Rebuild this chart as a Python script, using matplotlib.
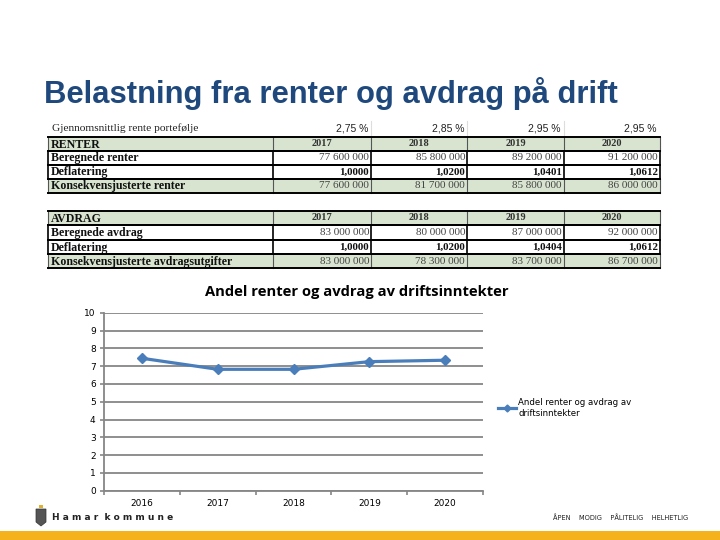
import matplotlib
matplotlib.use('Agg')
import matplotlib.pyplot as plt
from matplotlib.patches import Rectangle, Polygon
import numpy as np

# ---------------- data ----------------
years_chart = ['2016', '2017', '2018', '2019', '2020']
andel = [7.44, 6.82, 6.82, 7.25, 7.33]

table_years = ['2017', '2018', '2019', '2020']
rente_pst = ['2,75 %', '2,85 %', '2,95 %', '2,95 %']
beregnede_renter = ['77 600 000', '85 800 000', '89 200 000', '91 200 000']
deflator_renter = ['1,0000', '1,0200', '1,0401', '1,0612']
justerte_renter = ['77 600 000', '81 700 000', '85 800 000', '86 000 000']
beregnede_avdrag = ['83 000 000', '80 000 000', '87 000 000', '92 000 000']
deflator_avdrag = ['1,0000', '1,0200', '1,0404', '1,0612']
justerte_avdrag = ['83 000 000', '78 300 000', '83 700 000', '86 700 000']

W, H = 720, 540
fig = plt.figure(figsize=(7.2, 5.4), dpi=100)
fig.patch.set_facecolor('white')

# background axes in pixel coordinates for slide elements + table
bg = fig.add_axes([0, 0, 1, 1])
bg.set_xlim(0, W)
bg.set_ylim(H, 0)
bg.axis('off')

# slide title
bg.text(44, 103, 'Belastning fra renter og avdrag på drift', fontsize=22.3,
        family='Liberation Sans', weight='bold', color='#1F497D', va='baseline', ha='left')

# ---------------- table ----------------
green = '#D8E4D0'
col_edges = [48, 273, 371, 467, 564, 660]
serif = 'Liberation Serif'

# (label, values, fill, kind, row span in px)
rows = [
    ('Gjennomsnittlig rente portefølje', rente_pst, 'white', 'pct', (121, 136)),
    ('RENTER', table_years, green, 'year', (137, 151)),
    ('Beregnede renter', beregnede_renter, 'white', 'num', (151, 165)),
    ('Deflatering', deflator_renter, 'white', 'bold', (165, 179)),
    ('Konsekvensjusterte renter', justerte_renter, green, 'num', (179, 193)),
    ('AVDRAG', table_years, green, 'year', (211, 225)),
    ('Beregnede avdrag', beregnede_avdrag, 'white', 'num', (225, 240)),
    ('Deflatering', deflator_avdrag, 'white', 'bold', (240, 254)),
    ('Konsekvensjusterte avdragsutgifter', justerte_avdrag, green, 'num', (254, 268)),
]

for label, vals, fill, kind, (y0, y1) in rows:
    bg.add_patch(Rectangle((col_edges[0], y0), col_edges[-1] - col_edges[0], y1 - y0,
                           facecolor=fill, edgecolor='none', zorder=1))
    ym = (y0 + y1) / 2
    if kind == 'pct':
        bg.text(52, ym, label, fontsize=8.2, family=serif, va='center', ha='left', color='#222222')
        for i, v in enumerate(vals):
            bg.text(col_edges[i + 2] - 3, ym, v, fontsize=7.5, family='Liberation Sans',
                    va='center', ha='right', color='#222222')
        for x in col_edges[2:-1]:
            bg.plot([x, x], [y0, y1], color='#DDDDDD', lw=0.8, zorder=2)
        continue
    bg.text(51, ym + 0.5, label, fontsize=8.6, family=serif, weight='bold',
            va='center', ha='left', color='#111111')
    for i, v in enumerate(vals):
        if kind == 'year':
            bg.text((col_edges[i + 1] + col_edges[i + 2]) / 2, ym, v, fontsize=7.5,
                    family=serif, weight='bold', va='center', ha='center', color='#333333')
        elif kind == 'bold':
            bg.text(col_edges[i + 2] - 2, ym, v, fontsize=7.8, family=serif, weight='bold',
                    va='center', ha='right', color='#111111')
        else:
            bg.text(col_edges[i + 2] - 2, ym, v, fontsize=8, family=serif,
                    va='center', ha='right', color='#444444')
    # borders
    vc = '#555555' if fill == green else 'black'
    for x in col_edges:
        bg.plot([x, x], [y0, y1], color=vc, lw=1.2 if fill == 'white' else 0.8, zorder=2)
    for y in (y0, y1):
        bg.plot([col_edges[0], col_edges[-1]], [y, y], color='black', lw=1.4, zorder=3)

# ---------------- chart ----------------
ax = fig.add_axes([104 / W, 1 - 490.7 / H, 379 / W, 178 / H])
x = np.arange(len(years_chart))
ax.plot(x, andel, color='#4A7EBB', lw=2.3, marker='D', markersize=5,
        label='Andel renter og avdrag av\ndriftsinntekter', zorder=3)
ax.set_xlim(-0.5, len(years_chart) - 0.5)
ax.set_ylim(0, 10)
ax.set_yticks(range(0, 11))
ax.set_xticks(x)
ax.set_xticklabels(years_chart)
ax.set_xticks(np.arange(-0.5, len(years_chart), 1), minor=True)
ax.tick_params(axis='x', which='major', length=0, labelsize=6.5, pad=6)
ax.tick_params(axis='x', which='minor', length=3, color='#868686', width=1.2)
ax.tick_params(axis='y', length=3, color='#868686', width=1.2, labelsize=6.5, pad=3)
ax.grid(axis='y', color='#868686', lw=1.3)
ax.set_axisbelow(True)
for s in ['top', 'right']:
    ax.spines[s].set_visible(False)
for s in ['left', 'bottom']:
    ax.spines[s].set_color('#868686')
    ax.spines[s].set_linewidth(1.3)
ax.set_title('Andel renter og avdrag av driftsinntekter', fontsize=10.6, weight='bold',
             family='Open Sans', x=0.667, y=1.0, pad=12)
ax.legend(loc='center left', bbox_to_anchor=(494 / W, 1 - 408 / H),
          bbox_transform=fig.transFigure, frameon=False, fontsize=6.2,
          handlelength=2.0, handletextpad=0.3, borderpad=0, markerscale=0.7)

# ---------------- footer ----------------
bg.add_patch(Rectangle((0, 531), W, 9, facecolor='#F6B21B', edgecolor='none'))
bg.add_patch(Polygon([[36, 509], [46, 509], [46, 522], [41, 526], [36, 522]],
                     closed=True, facecolor='#555555', edgecolor='#333333', lw=0.5))
bg.add_patch(Rectangle((39, 505), 4, 3, facecolor='#E0B030', edgecolor='none'))
bg.text(52, 517, 'H a m a r  k o m m u n e', fontsize=6.5, weight='bold',
        family='DejaVu Sans', color='#222222', va='center', ha='left')
bg.text(553, 518, 'ÅPEN    MODIG    PÅLITELIG    HELHETLIG', fontsize=4.8,
        family='DejaVu Sans', color='#222222', va='center', ha='left')

fig.savefig('out.png', dpi=100)
